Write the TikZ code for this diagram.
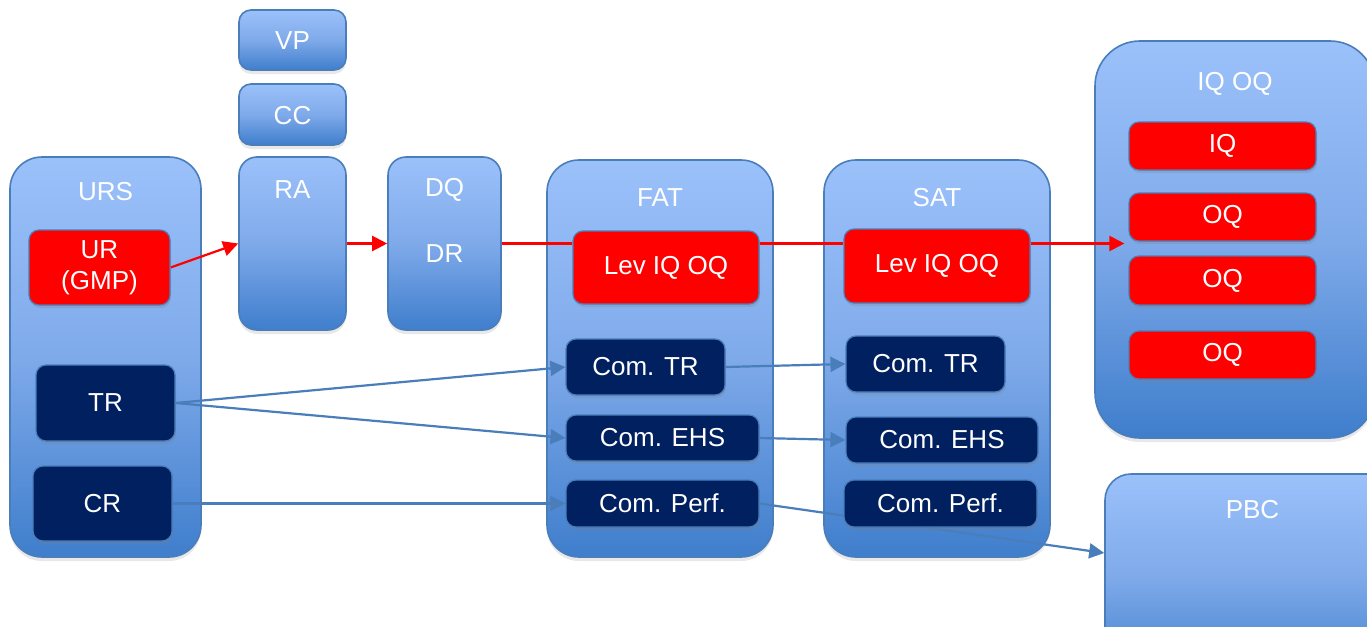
\documentclass[tikz,border=0pt]{standalone}
\usepackage{fontspec}
\setmainfont{Liberation Sans}
\usepackage{xcolor}
\usepackage{tikz}
\usetikzlibrary{positioning}
\usetikzlibrary{shadows}
\usetikzlibrary{arrows.meta}
\definecolor{edgeblue}{HTML}{4A7EBB}
\definecolor{boxtop}{HTML}{9BC1FA}
\definecolor{boxmid}{HTML}{7FAAEA}
\definecolor{boxbot}{HTML}{3F7ECC}
\definecolor{darknavy}{HTML}{002060}
\definecolor{pptred}{HTML}{FF0000}
\pgfdeclarelayer{bg}
\pgfdeclarelayer{links}
\pgfsetlayers{bg,links,main}
\tikzset{
	grp/.style={draw=edgeblue,line width=1.6pt,rounded corners=32pt,inner sep=0pt,
		top color=boxtop,bottom color=boxbot,middle color=boxmid,
		drop shadow={opacity=0.18,shadow xshift=0pt,shadow yshift=-4pt}},
	ttl/.style={text=white,inner sep=0pt,text height=19pt,text depth=0pt},
	redbox/.style={draw=edgeblue,line width=1.2pt,fill=pptred,rounded corners=10pt,
		text=white,align=center,inner sep=0pt,
		drop shadow={opacity=0.25,shadow xshift=1pt,shadow yshift=-3pt}},
	navybox/.style={redbox,fill=darknavy},
	sz/.style 2 args={minimum width=#1,minimum height=#2},
	redlink/.style={draw=pptred,line width=2.2pt},
	bluelink/.style={draw=edgeblue,line width=2.2pt},
	tip/.style={-{Triangle[length=15pt,width=15pt]}}
}

\begin{document}
\begin{tikzpicture}[x=1pt,y=-1pt,every node/.style={font=\fontsize{26}{31}\selectfont}]
	\clip (0,0) rectangle (1367,626);
	\begin{pgfonlayer}{bg}
		\node[grp,sz={191pt}{400pt}] (urs) at (105.5,357) {};
		\node[grp,sz={107pt}{60pt},rounded corners=12pt] (vp) at (292.5,40) {};
		\node[grp,sz={107pt}{61pt},rounded corners=12pt] (cc) at (292.5,114.5) {};
		\node[grp,sz={107pt}{173pt},rounded corners=18pt] (ra) at (292.5,243.5) {};
		\node[grp,sz={113pt}{173pt},rounded corners=18pt] (dq) at (444.5,243.5) {};
		\node[grp,sz={226pt}{397pt}] (fat) at (660,358.5) {};
		\node[grp,sz={226pt}{397pt}] (sat) at (937,358.5) {};
		\node[grp,sz={280pt}{397pt},rounded corners=45pt] (iqoq) at (1235,239.5) {};
		\node[grp,sz={295pt}{206pt},rounded corners=26pt] (pbc) at (1252.5,577) {};
	\end{pgfonlayer}
	% titles
	\node[ttl,below=25.5pt of urs.north] (urst) {URS};
	\node[ttl] (vpt) at (vp) {VP};
	\node[ttl] (cct) at (cc) {CC};
	\node[ttl,below=23.5pt of ra.north] (rat) {RA};
	\node[ttl,below=21.5pt of dq.north] (dqt) {DQ};
	\node[ttl,below=46pt of dqt] (drt) {DR};
	\node[ttl,below=28.5pt of fat.north] (fatt) {FAT};
	\node[ttl,below=28.5pt of sat.north] (satt) {SAT};
	\node[ttl,below=31.5pt of iqoq.north] (iqoqt) {IQ OQ};
	\node[ttl,below=26.5pt of pbc.north] (pbct) {PBC};
	% URS
	\node[redbox,sz={141pt}{75pt}] (ur) at (99.5,267.5) {UR\\(GMP)};
	\node[navybox,sz={139pt}{76pt}] (tr) at (105.5,403) {TR};
	\node[navybox,sz={139pt}{75pt}] (cr) at (102.5,503.5) {CR};
	% FAT
	\node[redbox,sz={186pt}{73pt}] (flev) at (666,267.5) {Lev IQ OQ};
	\node[navybox,sz={159pt}{56pt}] (fcomtr) at (645.5,367) {Com. TR};
	\node[navybox,sz={193pt}{46pt}] (fcomehs) at (662.5,438) {Com. EHS};
	\node[navybox,sz={193pt}{47pt}] (fcomperf) at (662.5,503.5) {Com. Perf.};
	% SAT
	\node[redbox,sz={186pt}{74pt}] (slev) at (937,266) {Lev IQ OQ};
	\node[navybox,sz={159pt}{56pt}] (scomtr) at (925.5,364) {Com. TR};
	\node[navybox,sz={192pt}{46pt}] (scomehs) at (942,440) {Com. EHS};
	\node[navybox,sz={193pt}{47pt}] (scomperf) at (940.5,503.5) {Com. Perf.};
	% IQ OQ
	\node[redbox,sz={187pt}{48pt}] (iq) at (1222.5,146) {IQ};
	\node[redbox,sz={187pt}{48pt}] (oqa) at (1222.5,217) {OQ};
	\node[redbox,sz={187pt}{49pt}] (oqb) at (1222.5,280.5) {OQ};
	\node[redbox,sz={187pt}{48pt}] (oqc) at (1222.5,355) {OQ};
	\coordinate (oqin) at ([xshift=-4pt]oqa.west |- dq.east);
	\begin{pgfonlayer}{links}
		\draw[redlink,tip] (ur.east) -- (ra.west);
		\draw[redlink,tip] (ra.east) -- (dq.west);
		\draw[redlink] (dq.east) -- (dq.east -| flev.west);
		\draw[redlink] (flev.east |- dq.east) -- (slev.west |- dq.east);
		\draw[redlink,tip] (slev.east |- dq.east) -- (oqin);
		\draw[bluelink,tip] (tr.east) -- (fcomtr.west);
		\draw[bluelink,tip] (tr.east) -- (fcomehs.west);
		\draw[bluelink,tip] (cr.east) -- (fcomperf.west);
		\draw[bluelink,tip] (fcomtr.east) -- (scomtr.west);
		\draw[bluelink,tip] (fcomehs.east) -- (scomehs.west);
		\draw[bluelink,tip] (fcomperf.east) -- ([yshift=24pt]pbc.west);
	\end{pgfonlayer}
\end{tikzpicture}
\end{document}
